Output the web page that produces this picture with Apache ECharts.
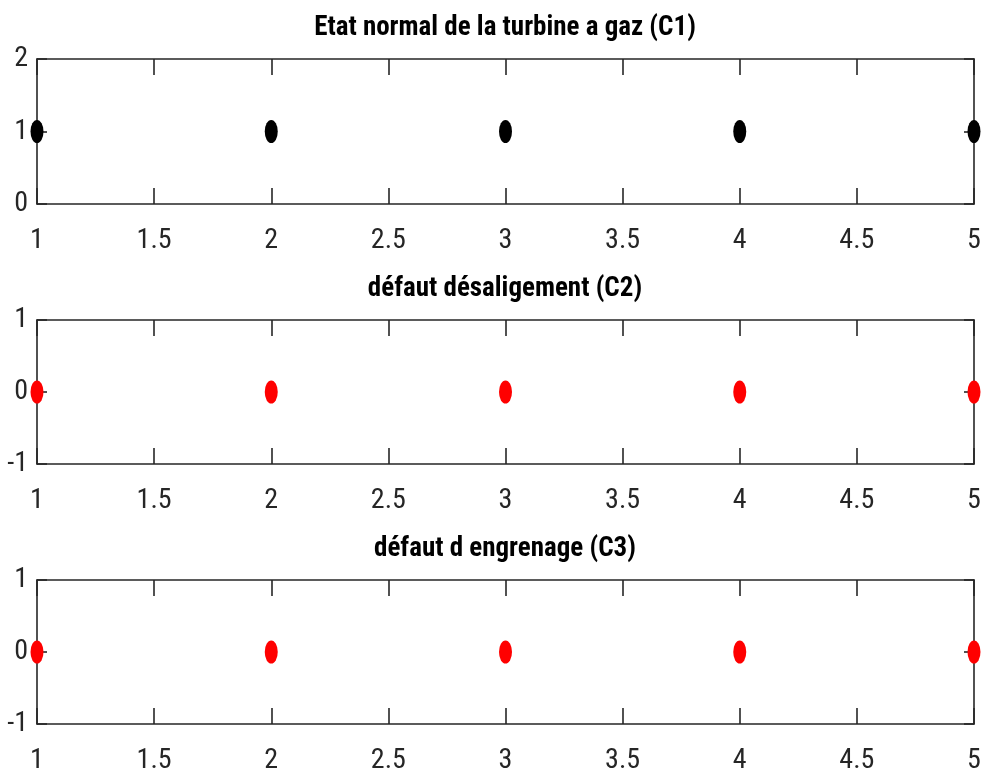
<!DOCTYPE html>
<html>
<head>
<meta charset="utf-8">
<script src="https://cdn.jsdelivr.net/npm/echarts@6/dist/echarts.min.js"></script>
<style>
html,body{margin:0;padding:0;background:#fff;}
#c{width:986px;height:778px;}
</style>
</head>
<body>
<div id="c"></div>
<script>
// ---- data ----
const xValues = [1, 2, 3, 4, 5];
const yC1 = [1, 1, 1, 1, 1];
const yC2 = [0, 0, 0, 0, 0];
const yC3 = [0, 0, 0, 0, 0];
const titles = ['Etat normal de la turbine a gaz (C1)', 'défaut désaligement (C2)', 'défaut d engrenage (C3)'];
const yRanges = [[0, 2], [-1, 1], [-1, 1]];
const colors = ['#000000', '#ff0000', '#ff0000'];
const seriesData = [yC1, yC2, yC3];

// ---- layout ----
const FONT = '"Roboto Condensed", "DejaVu Sans Condensed", sans-serif';
const AX = '#262626';
const grids = [
  {left: 37, right: 12, top: 59, height: 145},
  {left: 37, right: 12, top: 320, height: 144},
  {left: 37, right: 12, top: 580, height: 144}
];
const titleY = [15, 276, 536];
const titleX = 505;

const xAxes = [], yAxes = [], series = [], graphics = [];
grids.forEach((g, i) => {
  const common = {
    gridIndex: i, type: 'value', min: 1, max: 5, interval: 0.5,
    axisLine: {show: true, onZero: false, lineStyle: {color: AX, width: 1.6}},
    axisTick: {show: true, inside: true, length: 16, lineStyle: {color: AX, width: 1.6}},
    splitLine: {show: false}
  };
  xAxes.push(Object.assign({}, common, {
    position: 'bottom',
    axisLabel: {show: true, margin: 23, color: '#262626', fontSize: 28, fontFamily: FONT,
      formatter: v => String(v)}
  }));
  xAxes.push(Object.assign({}, common, {position: 'top', axisLabel: {show: false}}));
  const ycommon = {
    gridIndex: i, type: 'value', min: yRanges[i][0], max: yRanges[i][1], interval: 1,
    axisLine: {show: true, onZero: false, lineStyle: {color: AX, width: 1.6}},
    axisTick: {show: true, inside: true, length: 10, lineStyle: {color: AX, width: 1.6}},
    splitLine: {show: false}
  };
  yAxes.push(Object.assign({}, ycommon, {
    position: 'left',
    axisLabel: {show: true, margin: 9, color: '#262626', fontSize: 28, fontFamily: FONT}
  }));
  yAxes.push(Object.assign({}, ycommon, {position: 'right', axisLabel: {show: false}}));
  series.push({
    type: 'scatter', xAxisIndex: 2 * i, yAxisIndex: 2 * i, clip: false,
    symbol: 'circle', symbolSize: [13, 23],
    itemStyle: {color: colors[i], opacity: 1},
    data: xValues.map((x, k) => [x, seriesData[i][k]]),
    z: 5
  });
  graphics.push({
    type: 'text', x: titleX, y: titleY[i],
    style: {text: titles[i], fill: '#000', font: 'bold 27px ' + FONT, textAlign: 'center', textVerticalAlign: 'top'}
  });
});

const chart = echarts.init(document.getElementById('c'), null, {renderer: 'canvas'});
chart.setOption({
  animation: false,
  backgroundColor: '#fff',
  grid: grids,
  xAxis: xAxes,
  yAxis: yAxes,
  series: series,
  graphic: graphics
});
</script>
</body>
</html>
